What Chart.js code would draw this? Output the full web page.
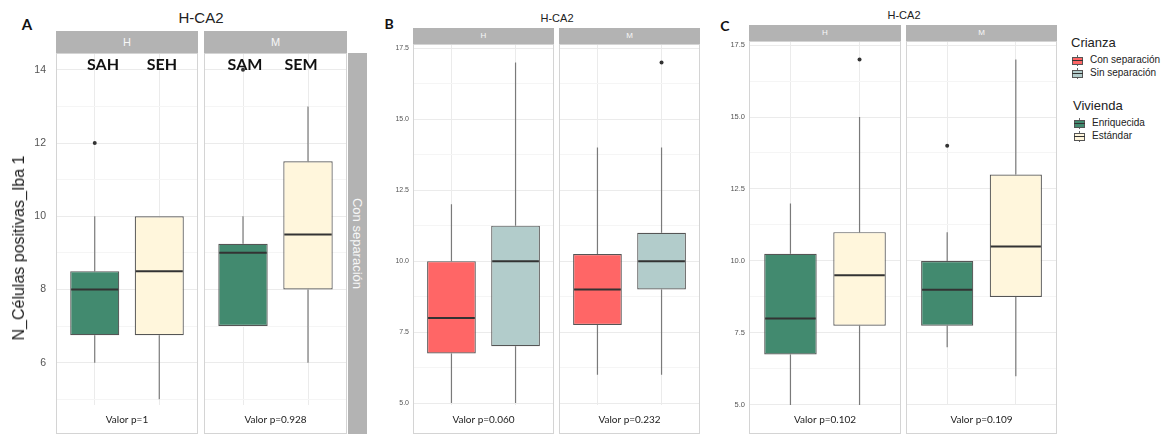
<!DOCTYPE html>
<html>
<head>
<meta charset="utf-8">
<script src="https://cdn.jsdelivr.net/npm/chart.js@4.4.1/dist/chart.umd.min.js"></script>
<style>
  html, body { margin: 0; padding: 0; background: #fff; }
  #fig { position: relative; width: 1164px; height: 436px; overflow: hidden; font-family: "Liberation Sans", Arial, sans-serif; }
  .txt { position: absolute; white-space: nowrap; transform: translate(-50%, -50%); line-height: 1; }
  .facet { position: absolute; }
  .strip { position: absolute; background: #b3b3b3; color: #f7f7f7; display: flex; align-items: center; justify-content: center; line-height: 1; }
  .key { position: absolute; width: 11px; height: 11px; }
  .key .wh { position: absolute; left: 5px; top: 0; width: 1px; height: 11px; background: #666; }
  .key .bx { position: absolute; left: 0; top: 2px; width: 9px; height: 6px; border: 1px solid #555; }
  .key .md { position: absolute; left: 0; top: 5px; width: 11px; height: 1px; background: #333; }
  .leg { position: absolute; white-space: nowrap; transform: translateY(-50%); line-height: 1; color: #222; }
</style>
</head>
<body>
<div id="fig"></div>
<script>
// Datos: cajas en orden H-1, H-2, M-1, M-2
const facetNames = ['H', 'M'];

// Panel A (Vivienda, con separación)
const groupsA = ['SAH', 'SEH', 'SAM', 'SEM'];
const lowA  = [6, 5, 7, 6];
const q1A   = [6.75, 6.75, 7, 8];
const medA  = [8, 8.5, 9, 9.5];
const q3A   = [8.5, 10, 9.25, 11.5];
const highA = [10, 10, 10, 13];
const outA  = [[12], [], [14], []];
const pA    = ['Valor p=1', 'Valor p=0.928'];
const ticksA = [6, 8, 10, 12, 14];

// Panel B (Crianza)
const lowB  = [5, 5, 6, 6];
const q1B   = [6.75, 7, 7.75, 9];
const medB  = [8, 10, 9, 10];
const q3B   = [10, 11.25, 10.25, 11];
const highB = [12, 17, 14, 14];
const outB  = [[], [], [], [17]];
const pB    = ['Valor p=0.060', 'Valor p=0.232'];

// Panel C (Vivienda)
const lowC  = [5, 5, 7, 6];
const q1C   = [6.75, 7.75, 7.75, 8.75];
const medC  = [8, 9.5, 9, 10.5];
const q3C   = [10.25, 11, 10, 13];
const highC = [12, 15, 11, 17];
const outC  = [[], [17], [14], []];
const pC    = ['Valor p=0.102', 'Valor p=0.109'];
const ticksBC = [5, 7.5, 10, 12.5, 15, 17.5];

const crianzaLabels = ['Con separación', 'Sin separación'];
const viviendaLabels = ['Enriquecida', 'Estándar'];
const crianzaColors = ['#ff6666', '#b2cccb'];
const viviendaColors = ['#428a6f', '#fff6dc'];

const fontSans = '"Liberation Sans", Arial, sans-serif';
const fontLabel = 'Lato, "Open Sans", sans-serif';

const panels = [
    { low: lowA, q1: q1A, med: medA, q3: q3A, high: highA, out: outA, pvals: pA,
      colors: viviendaColors, majors: ticksA, decimals: 0, yMin: 4.05, yMax: 14.46,
      lefts: [56, 204], rights: [198, 347], top: 53, bottom: 434, tickSize: 10.5, tickPad: 10 },
    { low: lowB, q1: q1B, med: medB, q3: q3B, high: highB, out: outB, pvals: pB,
      colors: crianzaColors, majors: ticksBC, decimals: 1, yMin: 3.91, yMax: 17.65,
      lefts: [413, 559], rights: [554, 700], top: 44, bottom: 434, tickSize: 7, tickPad: 4 },
    { low: lowC, q1: q1C, med: medC, q3: q3C, high: highC, out: outC, pvals: pC,
      colors: viviendaColors, majors: ticksBC, decimals: 1, yMin: 3.99, yMax: 17.64,
      lefts: [749, 906], rights: [901, 1057], top: 41, bottom: 434, tickSize: 7.5, tickPad: 4 }
];

const fig = document.getElementById('fig');

function addText(text, x, y, style) {
    const el = document.createElement('div');
    el.className = 'txt';
    el.textContent = text;
    el.style.left = x + 'px';
    el.style.top = y + 'px';
    Object.assign(el.style, style || {});
    fig.appendChild(el);
    return el;
}

function addStrip(text, left, top, width, height, fontSize, vertical) {
    const el = document.createElement('div');
    el.className = 'strip';
    el.style.cssText += `left:${left}px;top:${top}px;width:${width}px;height:${height}px;font-size:${fontSize}px;`;
    const span = document.createElement('span');
    span.textContent = text;
    if (vertical) {
        span.style.transform = 'rotate(90deg)';
        span.style.whiteSpace = 'nowrap';
    }
    el.appendChild(span);
    fig.appendChild(el);
}

function minorTicks(majors, min, max) {
    const step = majors[1] - majors[0];
    const out = [];
    for (let v = majors[0] - step / 2; v <= max; v += step) {
        if (v >= min) out.push(v);
    }
    return out;
}

function createFacet(p, f) {
    const axisW = f === 0 ? 40 : 0;
    const wrap = document.createElement('div');
    wrap.className = 'facet';
    wrap.style.left = (p.lefts[f] - axisW) + 'px';
    wrap.style.top = p.top + 'px';
    wrap.style.width = (p.rights[f] - p.lefts[f] + axisW) + 'px';
    wrap.style.height = (p.bottom - p.top) + 'px';
    const canvas = document.createElement('canvas');
    wrap.appendChild(canvas);
    fig.appendChild(wrap);

    const idx = [2 * f, 2 * f + 1];
    const boxes = idx.map((i, k) => ({ x: k + 1, y: [p.q1[i], p.q3[i]] }));
    const outliers = [];
    idx.forEach((i, k) => p.out[i].forEach(v => outliers.push({ x: k + 1, y: v })));
    const minors = minorTicks(p.majors, p.yMin, p.yMax);
    const allTicks = p.majors.concat(minors).sort((a, b) => a - b);
    const isMajor = v => p.majors.some(m => Math.abs(m - v) < 1e-6);

    const boxPlugin = {
        id: 'boxParts',
        beforeDatasetsDraw(chart) {
            const { ctx, chartArea, scales } = chart;
            // banda blanca bajo las etiquetas de p
            ctx.save();
            ctx.fillStyle = '#ffffff';
            ctx.fillRect(chartArea.left, chartArea.bottom - 29, chartArea.width, 29);
            // bigotes
            ctx.strokeStyle = '#7a7a7a';
            ctx.lineWidth = 1.2;
            idx.forEach((i, k) => {
                const x = scales.x.getPixelForValue(k + 1);
                ctx.beginPath();
                ctx.moveTo(x, scales.y.getPixelForValue(p.low[i]));
                ctx.lineTo(x, scales.y.getPixelForValue(p.q1[i]));
                ctx.moveTo(x, scales.y.getPixelForValue(p.q3[i]));
                ctx.lineTo(x, scales.y.getPixelForValue(p.high[i]));
                ctx.stroke();
            });
            ctx.restore();
        },
        afterDatasetsDraw(chart) {
            const { ctx, chartArea, scales } = chart;
            const bars = chart.getDatasetMeta(0).data;
            ctx.save();
            // medianas
            ctx.strokeStyle = '#333333';
            ctx.lineWidth = 2;
            idx.forEach((i, k) => {
                const bar = bars[k];
                const y = scales.y.getPixelForValue(p.med[i]);
                ctx.beginPath();
                ctx.moveTo(bar.x - bar.width / 2 + 1, y);
                ctx.lineTo(bar.x + bar.width / 2 - 1, y);
                ctx.stroke();
            });
            // borde del panel
            ctx.strokeStyle = '#d4d4d4';
            ctx.lineWidth = 1;
            ctx.strokeRect(chartArea.left + 0.5, chartArea.top + 0.5, chartArea.width - 1, chartArea.height - 1);
            // valor p
            ctx.fillStyle = '#222222';
            ctx.font = '10px ' + fontLabel;
            ctx.textAlign = 'center';
            ctx.textBaseline = 'middle';
            ctx.fillText(p.pvals[f], scales.x.getPixelForValue(1.5), chartArea.bottom - 14.5);
            ctx.restore();
        }
    };

    new Chart(canvas, {
        type: 'bar',
        data: {
            datasets: [{
                type: 'bar',
                data: boxes,
                backgroundColor: p.colors,
                borderColor: '#555555',
                borderWidth: 1.2,
                borderSkipped: false,
                barPercentage: 0.95,
                categoryPercentage: 0.8
            }, {
                type: 'scatter',
                data: outliers,
                pointRadius: 2,
                pointBackgroundColor: '#333333',
                pointBorderWidth: 0
            }]
        },
        options: {
            responsive: true,
            maintainAspectRatio: false,
            animation: false,
            events: [],
            layout: { padding: 0, autoPadding: false },
            plugins: { legend: { display: false }, tooltip: { enabled: false } },
            scales: {
                x: {
                    type: 'linear',
                    min: 0.4,
                    max: 2.6,
                    offset: false,
                    afterBuildTicks: s => { s.ticks = [{ value: 1 }, { value: 2 }]; },
                    afterFit: s => { s.height = 0; s.paddingLeft = 0; s.paddingRight = 0; },
                    ticks: { display: false },
                    grid: { offset: false, drawTicks: false, color: '#ebebeb' },
                    border: { display: false }
                },
                y: {
                    min: p.yMin,
                    max: p.yMax,
                    afterBuildTicks: s => { s.ticks = allTicks.map(v => ({ value: v })); },
                    afterFit: s => { s.width = axisW; s.paddingTop = 0; s.paddingBottom = 0; },
                    ticks: {
                        display: f === 0,
                        autoSkip: false,
                        padding: p.tickPad,
                        color: '#555555',
                        font: { family: fontSans, size: p.tickSize },
                        callback: v => isMajor(v) ? Number(v).toFixed(p.decimals) : ''
                    },
                    grid: {
                        drawTicks: false,
                        color: ctx => (ctx.tick && isMajor(ctx.tick.value)) ? '#ebebeb' : '#f5f5f5'
                    },
                    border: { display: false }
                }
            }
        },
        plugins: [boxPlugin]
    });
}

function addLegendKey(x, y, color) {
    const el = document.createElement('div');
    el.className = 'key';
    el.style.left = x + 'px';
    el.style.top = (y - 5.5) + 'px';
    el.innerHTML = '<span class="wh"></span><span class="bx" style="background:' + color + '"></span><span class="md"></span>';
    fig.appendChild(el);
}

function addLegend(title, x, y, labels, colors) {
    const t = document.createElement('div');
    t.className = 'leg';
    t.style.cssText += `left:${x}px;top:${y}px;font-size:13px;`;
    t.textContent = title;
    fig.appendChild(t);
    labels.forEach((lab, i) => {
        const ry = y + 18 + i * 13;
        addLegendKey(x + 1, ry, colors[i]);
        const l = document.createElement('div');
        l.className = 'leg';
        l.style.cssText += `left:${x + 19}px;top:${ry}px;font-size:10px;`;
        l.textContent = lab;
        fig.appendChild(l);
    });
}

document.addEventListener('DOMContentLoaded', function() {
    panels.forEach(p => { createFacet(p, 0); createFacet(p, 1); });

    // Panel A
    addText('A', 27, 24, { fontFamily: fontLabel, fontWeight: 'bold', fontSize: '15px', color: '#111' });
    addText('H-CA2', 201, 17, { fontSize: '15px', color: '#222' });
    addStrip(facetNames[0], 56, 31, 142, 22, 11);
    addStrip(facetNames[1], 204, 31, 143, 22, 11);
    addStrip('Con separación', 348, 53, 19, 381, 13, true);
    addText('N_Células positivas_Iba 1', 19, 248, { fontSize: '16px', color: '#1a1a1a', transform: 'translate(-50%, -50%) rotate(-90deg)' });
    const groupX = [103, 162, 245, 301];
    groupsA.forEach((g, i) => addText(g, groupX[i], 64, { fontFamily: fontLabel, fontWeight: 'bold', fontSize: '16px', color: '#111' }));

    // Panel B
    addText('B', 389, 24, { fontFamily: fontLabel, fontWeight: 'bold', fontSize: '14px', color: '#111' });
    addText('H-CA2', 557, 18, { fontSize: '11px', color: '#222' });
    addStrip(facetNames[0], 413, 28, 141, 16, 8);
    addStrip(facetNames[1], 559, 28, 141, 16, 8);

    // Panel C
    addText('C', 725, 26, { fontFamily: fontLabel, fontWeight: 'bold', fontSize: '14px', color: '#111' });
    addText('H-CA2', 904, 15, { fontSize: '11px', color: '#222' });
    addStrip(facetNames[0], 749, 25, 152, 16, 8);
    addStrip(facetNames[1], 906, 25, 151, 16, 8);

    // Leyendas
    addLegend('Crianza', 1071, 42, crianzaLabels, crianzaColors);
    addLegend('Vivienda', 1073, 105, viviendaLabels, viviendaColors);
});
</script>
</body>
</html>
